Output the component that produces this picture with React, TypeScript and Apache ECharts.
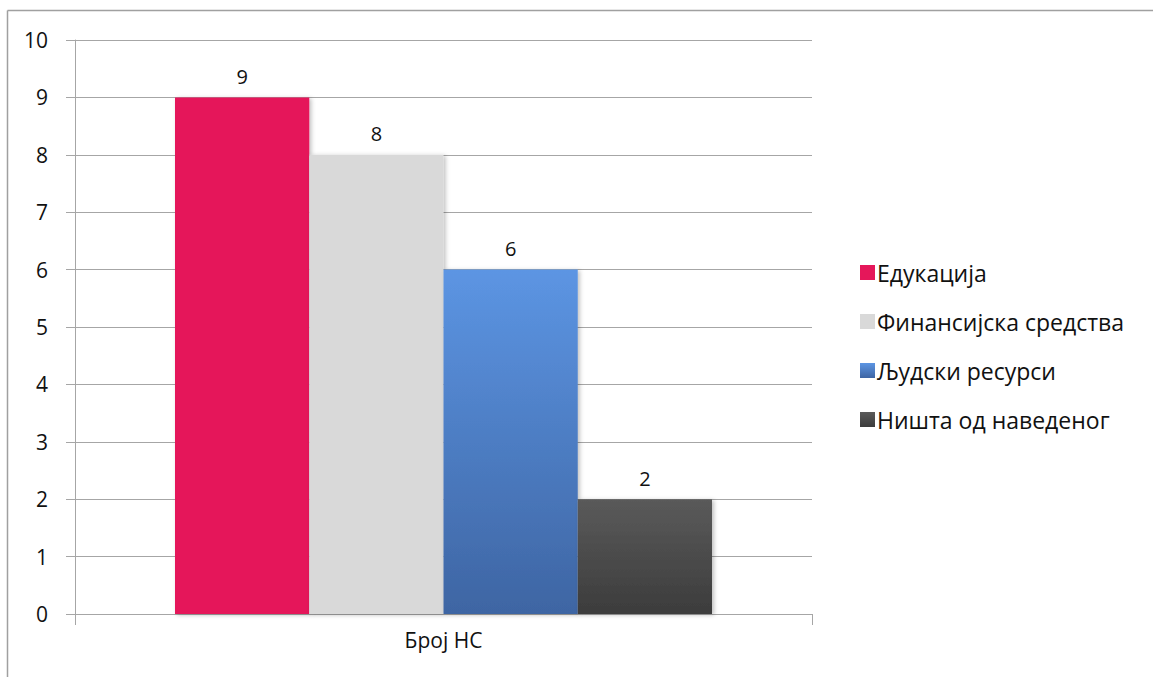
import React, { useEffect, useRef } from "react";
import * as echarts from "echarts";

const categories = ["Број НС"];
const seriesNames = ["Едукација", "Финансијска средства", "Људски ресурси", "Ништа од наведеног"];
const seriesValues = [9, 8, 6, 2];
const yTicks = { min: 0, max: 10, interval: 1 };

const FONT = "'Open Sans', 'Noto Sans', sans-serif";

const seriesColors: any[] = [
  "#E5175A",
  "#D9D9D9",
  new echarts.graphic.LinearGradient(0, 0, 0, 1, [
    { offset: 0, color: "#5C95E3" },
    { offset: 1, color: "#3E65A3" },
  ]),
  new echarts.graphic.LinearGradient(0, 0, 0, 1, [
    { offset: 0, color: "#5A5A5A" },
    { offset: 1, color: "#3C3C3C" },
  ]),
];

export default function App() {
  const ref = useRef<HTMLDivElement>(null);

  useEffect(() => {
    if (!ref.current) return;
    const chart = echarts.init(ref.current, null, { renderer: "svg" });
    const axisGray = "#A6A6A6";

    chart.setOption({
      animation: false,
      backgroundColor: "#FFFFFF",
      textStyle: { fontFamily: FONT },
      grid: { left: 75, right: 341, top: 40, bottom: 63, containLabel: false },
      legend: {
        orient: "vertical",
        left: 855,
        top: 256,
        itemWidth: 15,
        itemHeight: 15,
        itemGap: 26,
        icon: "rect",
        textStyle: { fontSize: 23, color: "#111", fontFamily: FONT, padding: [0, 0, 0, -3] },
        data: seriesNames,
      },
      xAxis: {
        type: "category",
        data: categories,
        boundaryGap: true,
        axisLine: { show: true, lineStyle: { color: axisGray, width: 1 } },
        axisTick: { show: true, length: 11, lineStyle: { color: axisGray } },
        axisLabel: { color: "#111", fontSize: 21, margin: 15, fontFamily: FONT },
      },
      yAxis: {
        type: "value",
        min: yTicks.min,
        max: yTicks.max,
        interval: yTicks.interval,
        axisLine: { show: true, lineStyle: { color: axisGray, width: 1 } },
        axisTick: { show: true, length: 9, lineStyle: { color: axisGray } },
        axisLabel: { color: "#111", fontSize: 21, margin: 27, fontFamily: FONT },
        splitLine: { show: true, lineStyle: { color: axisGray, width: 1 } },
      },
      series: seriesNames.map((name, i) => ({
        name,
        type: "bar",
        data: [seriesValues[i]],
        barWidth: 134.25,
        barGap: "0%",
        itemStyle: {
          color: seriesColors[i],
          shadowColor: "rgba(0,0,0,0.25)",
          shadowBlur: 4,
          shadowOffsetX: 2,
          shadowOffsetY: 1,
        },
        label: {
          show: true,
          position: "top",
          distance: 11,
          fontSize: 20,
          color: "#111",
          fontFamily: FONT,
        },
      })),
      graphic: [
        {
          type: "line",
          shape: { x1: 7.5, y1: 10.5, x2: 1153, y2: 10.5 },
          style: { stroke: "#A0A0A0", lineWidth: 1.5 },
          silent: true,
        },
        {
          type: "line",
          shape: { x1: 7.5, y1: 10.5, x2: 7.5, y2: 677 },
          style: { stroke: "#A0A0A0", lineWidth: 1.5 },
          silent: true,
        },
      ],
    });

    return () => chart.dispose();
  }, []);

  return (
    <div
      ref={ref}
      style={{ position: "fixed", left: 0, top: 0, width: 1153, height: 677 }}
    />
  );
}
